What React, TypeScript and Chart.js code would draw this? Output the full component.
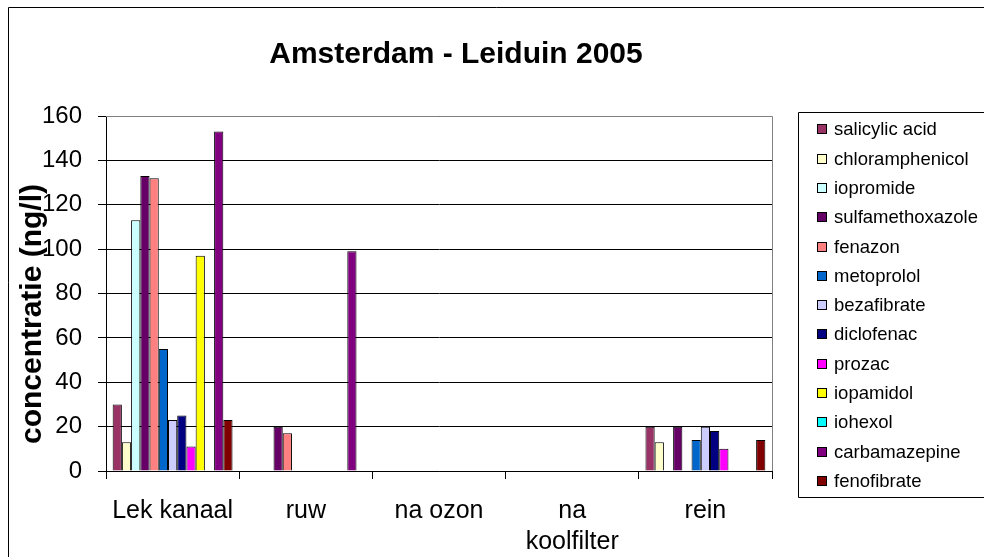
import React, { useEffect, useRef } from 'react';
import { Chart, registerables } from 'chart.js';

Chart.register(...registerables);

const chartTitle = 'Amsterdam - Leiduin 2005';
const yAxisTitle = 'concentratie (ng/l)';
const categories: (string | string[])[] = ['Lek kanaal', 'ruw', 'na ozon', ['na', 'koolfilter'], 'rein'];
const yMin = 0;
const yMax = 160;
const yStep = 20;

const seriesNames = [
  'salicylic acid',
  'chloramphenicol',
  'iopromide',
  'sulfamethoxazole',
  'fenazon',
  'metoprolol',
  'bezafibrate',
  'diclofenac',
  'prozac',
  'iopamidol',
  'iohexol',
  'carbamazepine',
  'fenofibrate',
];

const seriesColors = [
  '#993366',
  '#FFFFCC',
  '#CCFFFF',
  '#660066',
  '#FF8080',
  '#0066CC',
  '#CCCCFF',
  '#000080',
  '#FF00FF',
  '#FFFF00',
  '#00FFFF',
  '#800080',
  '#800000',
];

const salicylicAcid = [30, null, null, null, 20];
const chloramphenicol = [13, null, null, null, 13];
const iopromide = [113, null, null, null, null];
const sulfamethoxazole = [133, 20, null, null, 20];
const fenazon = [132, 17, null, null, null];
const metoprolol = [55, null, null, null, 14];
const bezafibrate = [23, null, null, null, 20];
const diclofenac = [25, null, null, null, 18];
const prozac = [11, null, null, null, 10];
const iopamidol = [97, null, null, null, null];
const iohexol = [null, null, null, null, null];
const carbamazepine = [153, 99, null, null, null];
const fenofibrate = [23, null, null, null, 14];

const seriesValues = [
  salicylicAcid,
  chloramphenicol,
  iopromide,
  sulfamethoxazole,
  fenazon,
  metoprolol,
  bezafibrate,
  diclofenac,
  prozac,
  iopamidol,
  iohexol,
  carbamazepine,
  fenofibrate,
];

const FONT = '"Liberation Sans", Arial, sans-serif';
const CANVAS_W = 976;
const CANVAS_H = 550;

const decorPlugin = {
  id: 'decor',
  afterDraw(chart: any) {
    const ctx: CanvasRenderingContext2D = chart.ctx;
    const a = chart.chartArea;
    ctx.save();

    // outer chart border (left + top, right/bottom fall outside the view)
    ctx.strokeStyle = '#000';
    ctx.lineWidth = 1;
    ctx.beginPath();
    ctx.moveTo(0.5, chart.height + 10);
    ctx.lineTo(0.5, 0.5);
    ctx.lineTo(chart.width + 10, 0.5);
    ctx.stroke();

    // plot-area border (top + right, gray)
    const t = Math.round(a.top - 0.5) + 0.5;
    const r = Math.round(a.right - 0.5) + 0.5;
    ctx.strokeStyle = '#808080';
    ctx.beginPath();
    ctx.moveTo(a.left, t);
    ctx.lineTo(r, t);
    ctx.lineTo(r, a.bottom);
    ctx.stroke();

    // title
    ctx.fillStyle = '#000';
    ctx.font = `bold 30px ${FONT}`;
    ctx.textAlign = 'center';
    ctx.textBaseline = 'alphabetic';
    ctx.fillText(chartTitle, 448, 56);

    // y axis title
    ctx.save();
    ctx.translate(25, 307);
    ctx.rotate(-Math.PI / 2);
    ctx.font = `bold 30px ${FONT}`;
    ctx.textAlign = 'center';
    ctx.textBaseline = 'middle';
    ctx.fillText(yAxisTitle, 0, 0);
    ctx.restore();

    // legend
    const boxLeft = 790.5;
    const boxTop = 105.5;
    const boxBottom = 490.5;
    ctx.strokeStyle = '#000';
    ctx.beginPath();
    ctx.moveTo(chart.width + 10, boxTop);
    ctx.lineTo(boxLeft, boxTop);
    ctx.lineTo(boxLeft, boxBottom);
    ctx.lineTo(chart.width + 10, boxBottom);
    ctx.stroke();

    const ds = chart.data.datasets;
    const firstY = 122.3;
    const step = 29.3;
    ctx.font = `18.5px ${FONT}`;
    ctx.textAlign = 'left';
    ctx.textBaseline = 'middle';
    ds.forEach((d: any, i: number) => {
      const cy = firstY + i * step;
      const sy = Math.round(cy - 5);
      ctx.fillStyle = d.backgroundColor;
      ctx.fillRect(809, sy, 10, 10);
      ctx.strokeStyle = '#000';
      ctx.strokeRect(809.5, sy + 0.5, 9, 9);
      ctx.fillStyle = '#000';
      ctx.fillText(d.label, 826, cy + 1);
    });

    ctx.restore();
  },
};

export default function App() {
  const canvasRef = useRef<HTMLCanvasElement | null>(null);

  useEffect(() => {
    if (!canvasRef.current) return;
    const chart = new Chart(canvasRef.current, {
      type: 'bar',
      data: {
        labels: categories as any,
        datasets: seriesNames.map((name, i) => ({
          label: name,
          data: seriesValues[i] as any,
          backgroundColor: seriesColors[i],
          borderColor: '#000',
          borderWidth: 1,
          categoryPercentage: 0.9,
          barPercentage: 1,
        })),
      },
      options: {
        responsive: false,
        animation: false,
        layout: { padding: { left: 0, right: 212, top: 109, bottom: 0 } },
        plugins: {
          legend: { display: false },
          title: { display: false },
          tooltip: { enabled: false },
        },
        scales: {
          x: {
            grid: {
              drawOnChartArea: false,
              drawTicks: true,
              tickLength: 8,
              color: '#000',
              offset: true,
            },
            border: { display: true, color: '#000' },
            ticks: {
              color: '#000',
              font: { family: FONT, size: 25, lineHeight: 1.25 },
              padding: 16,
              maxRotation: 0,
              minRotation: 0,
              autoSkip: false,
            },
            afterFit: (scale: any) => {
              scale.height = 86;
            },
          },
          y: {
            min: yMin,
            max: yMax,
            ticks: {
              stepSize: yStep,
              color: '#000',
              font: { family: FONT, size: 24 },
              padding: 16,
            },
            grid: {
              color: '#000',
              drawTicks: true,
              tickLength: 8,
            },
            border: { display: true, color: '#000' },
            afterFit: (scale: any) => {
              scale.width = 98;
            },
          },
        },
      },
      plugins: [decorPlugin],
    });
    return () => chart.destroy();
  }, []);

  return (
    <div
      style={{
        position: 'fixed',
        left: 8,
        top: 7,
        width: CANVAS_W,
        height: CANVAS_H,
        overflow: 'hidden',
        background: '#fff',
      }}
    >
      <canvas ref={canvasRef} width={CANVAS_W} height={CANVAS_H} style={{ display: 'block' }} />
    </div>
  );
}
